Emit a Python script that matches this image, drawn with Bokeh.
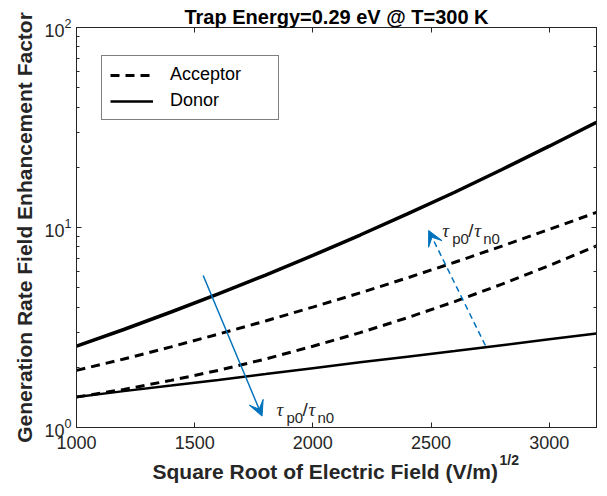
from bokeh.plotting import figure
from bokeh.models import (Label, LogAxis, LinearAxis, Legend, LegendItem, Arrow,
                          VeeHead, CustomJSTickFormatter, FixedTicker, LogTicker, Title)
from bokeh.embed import file_html
from bokeh.resources import INLINE

# ---- data ----
field = [1000, 1200, 1400, 1600, 1800, 2000, 2200, 2400, 2600, 2800, 3000, 3200]
donor_high = [2.55, 3.09, 3.78, 4.66, 5.78, 7.25, 9.17, 11.7, 15.0, 19.5, 25.5, 33.6]
donor_low = [1.42, 1.52, 1.62, 1.73, 1.85, 1.98, 2.12, 2.26, 2.41, 2.58, 2.76, 2.95]
acceptor_high = [1.93, 2.20, 2.53, 2.93, 3.41, 4.00, 4.71, 5.60, 6.70, 8.07, 9.78, 11.9]
acceptor_low = [1.42, 1.55, 1.72, 1.93, 2.20, 2.55, 2.98, 3.54, 4.26, 5.21, 6.45, 8.09]
x_ticks = [1000, 1500, 2000, 2500, 3000]

# arrows: (x_start, y_start, x_end, y_end)
arrow_down = (1536, 5.75, 1785, 1.14)
arrow_up = (2730, 2.57, 2490, 9.66)
ratio_label_down = (1846, 1.23)
ratio_label_up = (2547, 9.66)

TXT = "#262626"
BLUE = "#0072BD"
FONT = "Liberation Sans"

p = figure(width=607, height=496, x_range=(1000, 3200), y_range=(1, 100),
           y_axis_type="log", output_backend="svg", toolbar_location=None,
           min_border_left=76, min_border_right=11, min_border_top=27,
           min_border_bottom=69)
p.grid.visible = False
p.outline_line_color = TXT
p.background_fill_color = "white"
p.border_fill_color = "white"

p.title.text = "Trap Energy=0.29 eV @ T=300 K"
p.title.align = "center"
p.title.text_font = FONT
p.title.text_font_size = "20px"
p.title.text_font_style = "bold"
p.title.text_color = "black"
p.title.standoff = 0

for ax in (p.xaxis[0], p.yaxis[0]):
    ax.major_tick_in = 5
    ax.major_tick_out = 0
    ax.minor_tick_in = 3
    ax.minor_tick_out = 0
    ax.axis_line_color = TXT
    ax.major_tick_line_color = TXT
    ax.minor_tick_line_color = TXT
    ax.major_label_text_font = FONT
    ax.major_label_text_font_size = "18px"
    ax.major_label_text_color = TXT

p.xaxis[0].ticker = FixedTicker(ticks=x_ticks)
p.xaxis[0].minor_tick_line_color = None
p.xaxis[0].major_label_standoff = 8
p.yaxis[0].major_label_standoff = 5

p.yaxis[0].axis_label = "Generation Rate Field Enhancement Factor"
p.yaxis[0].axis_label_text_font = FONT
p.yaxis[0].axis_label_text_font_size = "21px"
p.yaxis[0].axis_label_text_font_style = "bold"
p.yaxis[0].axis_label_text_color = TXT
p.yaxis[0].axis_label_standoff = 5

empty = CustomJSTickFormatter(code="return ''")
top = LinearAxis(ticker=FixedTicker(ticks=x_ticks), formatter=empty,
                 major_tick_in=5, major_tick_out=0, minor_tick_line_color=None,
                 axis_line_color=TXT, major_tick_line_color=TXT,
                 major_label_standoff=0, major_label_text_font_size="1px",
                 axis_label_standoff=0)
right = LogAxis(ticker=LogTicker(), formatter=empty,
                major_tick_in=5, major_tick_out=0, minor_tick_in=3, minor_tick_out=0,
                axis_line_color=TXT, major_tick_line_color=TXT,
                minor_tick_line_color=TXT, major_label_standoff=0,
                major_label_text_font_size="1px", axis_label_standoff=0)
p.add_layout(top, "above")
p.add_layout(right, "right")

# x label (with superscript) as titles below the axis
sup = Title(text="1/2", align="left", offset=423, vertical_align="top",
            standoff=0, text_font=FONT, text_font_size="14px",
            text_font_style="bold", text_color=TXT)
main = Title(text="Square Root of Electric Field (V/m)", align="left", offset=76,
             vertical_align="top", standoff=-20, text_font=FONT,
             text_font_size="21px", text_font_style="bold", text_color=TXT)
p.add_layout(sup, "below")
p.add_layout(main, "below")

# curves
r_acc1 = p.line(field, acceptor_high, line_color="black", line_width=3, line_dash="9 6")
r_acc2 = p.line(field, acceptor_low, line_color="black", line_width=3, line_dash="9 6")
r_don1 = p.line(field, donor_high, line_color="black", line_width=3.5)
r_don2 = p.line(field, donor_low, line_color="black", line_width=2.5)

legend = Legend(items=[LegendItem(label="Acceptor", renderers=[r_acc1]),
                       LegendItem(label="Donor", renderers=[r_don2])],
                location=(25, 307), label_text_font=FONT, label_text_font_size="18px",
                label_text_color="black", glyph_width=43, glyph_height=20,
                label_height=20, label_standoff=17, padding=8, spacing=5, margin=0,
                border_line_color="black", border_line_width=1, label_width=100)
p.add_layout(legend, "center")

# arrows
p.add_layout(Arrow(x_start=arrow_down[0], y_start=arrow_down[1],
                   x_end=arrow_down[2], y_end=arrow_down[3],
                   line_color=BLUE, line_width=1.5,
                   end=VeeHead(size=15, fill_color=BLUE, line_color=BLUE)))
p.add_layout(Arrow(x_start=arrow_up[0], y_start=arrow_up[1],
                   x_end=arrow_up[2], y_end=arrow_up[3],
                   line_color=BLUE, line_width=1.5, line_dash="6 4",
                   end=VeeHead(size=15, fill_color=BLUE, line_color=BLUE)))

def ratio_label(x, y):
    pieces = [("τ", 0, 0, "Liberation Serif", "italic", "19px"),
              ("p0", 10, -8, FONT, "normal", "15px"),
              ("/", 26, 0, FONT, "normal", "19px"),
              ("τ", 32, 0, "Liberation Serif", "italic", "19px"),
              ("n0", 41, -8, FONT, "normal", "15px")]
    for t, dx, dy, f, st, sz in pieces:
        p.add_layout(Label(x=x, y=y, x_offset=dx, y_offset=dy, text=t,
                           text_baseline="alphabetic", text_font=f,
                           text_font_style=st, text_font_size=sz, text_color=TXT))

ratio_label(*ratio_label_down)
ratio_label(*ratio_label_up)

open("out.html", "w").write(file_html(p, INLINE))
